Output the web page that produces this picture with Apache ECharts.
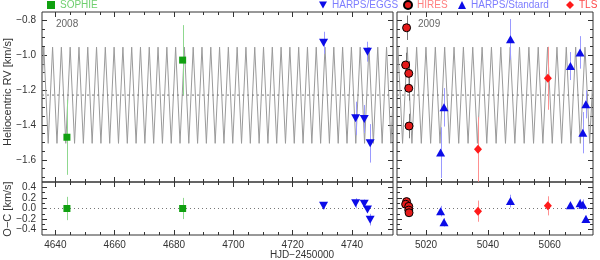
<!DOCTYPE html>
<html><head><meta charset="utf-8">
<script src="https://cdn.jsdelivr.net/npm/echarts@6/dist/echarts.min.js"></script>
<style>html,body{margin:0;padding:0;background:#fff}#c{width:600px;height:260px}</style>
</head><body><div id="c"></div>
<script>
// ---------------- data ----------------
const leftRange = [4635.5, 4753.8];
const rightRange = [5010.6, 5074.0];
const rvRange = [-1.726, -0.754];
const ocRange = [-0.5, 0.5];
const rvTicks = [-1.6, -1.4, -1.2, -1.0, -0.8];
const rvMinor = [-1.70,-1.65,-1.60,-1.55,-1.50,-1.45,-1.40,-1.35,-1.30,-1.25,-1.20,-1.15,-1.10,-1.05,-1.00,-0.95,-0.90,-0.85,-0.80];
const ocTicks = [-0.4, -0.2, 0.0, 0.2, 0.4];
const ocMinor = [-0.4,-0.3,-0.2,-0.1,0,0.1,0.2,0.3,0.4];
const xTicksLeft = [4640, 4660, 4680, 4700, 4720, 4740];
const xMinorLeft = [4640,4645,4650,4655,4660,4665,4670,4675,4680,4685,4690,4695,4700,4705,4710,4715,4720,4725,4730,4735,4740,4745,4750];
const xTicksRight = [5020, 5040, 5060];
const xMinorRight = [5015,5020,5025,5030,5035,5040,5045,5050,5055,5060,5065,5070];
const systemicRV = -1.229;
const curvePeakRV = -0.955;
const curveTroughRV = -1.505;
// model curve extrema
const curvePeaksLeft = [4636.11,4639.07,4642.03,4644.99,4647.96,4650.92,4653.88,4656.84,4659.80,4662.77,4665.73,4668.69,4671.65,4674.61,4677.58,4680.54,4683.50,4686.46,4689.42,4692.39,4695.35,4698.31,4701.27,4704.23,4707.20,4710.16,4713.12,4716.08,4719.04,4722.01,4724.97,4727.93,4730.89,4733.85,4736.82,4739.78,4742.74,4745.70,4748.66,4751.63,4754.59];
const curveTroughsLeft = [4634.63,4637.59,4640.55,4643.51,4646.47,4649.44,4652.40,4655.36,4658.32,4661.28,4664.25,4667.21,4670.17,4673.13,4676.09,4679.06,4682.02,4684.98,4687.94,4690.90,4693.87,4696.83,4699.79,4702.75,4705.71,4708.68,4711.64,4714.60,4717.56,4720.52,4723.49,4726.45,4729.41,4732.37,4735.33,4738.30,4741.26,4744.22,4747.18,4750.14,4753.11];
const curvePeaksRight = [5010.89,5013.92,5016.95,5019.97,5023.00,5026.02,5029.05,5032.08,5035.10,5038.13,5041.15,5044.18,5047.21,5050.23,5053.26,5056.28,5059.31,5062.34,5065.36,5068.39,5071.41,5074.44];
const curveTroughsRight = [5009.38,5012.40,5015.43,5018.46,5021.48,5024.51,5027.54,5030.56,5033.59,5036.61,5039.64,5042.66,5045.69,5048.72,5051.74,5054.77,5057.79,5060.82,5063.85,5066.87,5069.90,5072.92];

// SOPHIE
const sophieT = [4643.9, 4682.9];
const sophieRV = [-1.47, -1.029];
const sophieErr = [0.215, 0.20];
const sophieOC = [0.0, 0.0];
const sophieOCErr = [0.22, 0.20];
// HARPS/EGGS
const eggsT = [4730.4, 4741.2, 4744.1, 4745.2, 4746.1];
const eggsRV = [-0.93, -1.362, -1.366, -0.981, -1.505];
const eggsErr = [0.063, 0.095, 0.08, 0.057, 0.11];
const eggsOC = [0.05, 0.10, 0.09, -0.02, -0.21];
const eggsOCErr = [0.063, 0.095, 0.08, 0.057, 0.11];
// HIRES
const hiresT = [5013.7, 5013.4, 5014.4, 5014.4, 5014.5];
const hiresRV = [-0.844, -1.057, -1.105, -1.19, -1.406];
const hiresErr = [0.07, 0.07, 0.07, 0.07, 0.07];
const hiresOC = [0.13, 0.08, 0.04, -0.03, -0.08];
const hiresOCErr = [0.07, 0.07, 0.07, 0.07, 0.07];
// HARPS/Standard
const stdT = [5024.7, 5025.8, 5047.3, 5066.7, 5069.8, 5070.7, 5071.7];
const stdRV = [-1.558, -1.299, -0.91, -1.063, -0.985, -1.444, -1.282];
const stdErr = [0.145, 0.11, 0.116, 0.08, 0.093, 0.118, 0.08];
const stdOC = [-0.05, -0.26, 0.14, 0.06, 0.10, 0.07, -0.20];
const stdOCErr = [0.1, 0.08, 0.12, 0.07, 0.08, 0.1, 0.07];
// TLS
const tlsT = [5036.8, 5059.4];
const tlsRV = [-1.539, -1.133];
const tlsErr = [0.185, 0.18];
const tlsOC = [-0.05, 0.05];
const tlsOCErr = [0.2, 0.18];

// ---------------- chart ----------------
const FONT = 'Liberation Sans';
const AX = '#333';
const TRI_DOWN = 'path://M0,0L10,0L5,9Z';
const fmtY = v => (Math.abs(v) < 1e-9 ? '0.0' : v.toFixed(1)).replace('-', '\u2212');
const fmtX = v => String(Math.round(v));

const grids = [
  {left:42, top:12, width:351, height:170},
  {left:42, top:182, width:351, height:53},
  {left:397, top:12, width:196, height:170},
  {left:397, top:182, width:196, height:53}
].map(g => Object.assign(g, {show:true, borderColor:AX, borderWidth:1, backgroundColor:'transparent'}));

function mkAxes(dim, g, range, majors, minors, labels, fmt) {
  const base = {type:'value', gridIndex:g, min:range[0], max:range[1],
    splitLine:{show:false}, axisLine:{show:false, onZero:false}};
  const sides = dim === 'x' ? [['bottom', labels], ['top', false]] : [['left', labels], ['right', false]];
  const out = [];
  sides.forEach(([pos, lab]) => {
    out.push(Object.assign({}, base, {position:pos,
      axisTick:{show:true, inside:true, length:5, customValues:majors, lineStyle:{color:AX}},
      axisLabel:{show:lab, customValues:majors, margin:dim==='x'?5:6, color:AX,
        fontFamily:FONT, fontSize:10, formatter:fmt}}));
    out.push(Object.assign({}, base, {position:pos,
      axisTick:{show:true, inside:true, length:3, customValues:minors, lineStyle:{color:AX}},
      axisLabel:{show:false}}));
  });
  return out;
}

const xAxes = [].concat(
  mkAxes('x', 0, leftRange, xTicksLeft, xMinorLeft, false, fmtX),
  mkAxes('x', 1, leftRange, xTicksLeft, xMinorLeft, true, fmtX),
  mkAxes('x', 2, rightRange, xTicksRight, xMinorRight, false, fmtX),
  mkAxes('x', 3, rightRange, xTicksRight, xMinorRight, true, fmtX)
);
const yAxes = [].concat(
  mkAxes('y', 0, rvRange, rvTicks, rvMinor, true, fmtY),
  mkAxes('y', 1, ocRange, ocTicks, ocMinor, true, fmtY),
  mkAxes('y', 2, rvRange, rvTicks, rvMinor, false, fmtY),
  mkAxes('y', 3, ocRange, ocTicks, ocMinor, false, fmtY)
);

function merge(peaks, troughs) {
  const pts = peaks.map(t => [t, curvePeakRV]).concat(troughs.map(t => [t, curveTroughRV]));
  pts.sort((a, b) => a[0] - b[0]);
  return pts;
}
function curve(g, peaks, troughs) {
  return {type:'line', xAxisIndex:g*4, yAxisIndex:g*4, data:merge(peaks, troughs),
    showSymbol:false, symbol:'none', silent:true, clip:true, z:1,
    lineStyle:{color:'#9a9a9a', width:1}};
}
function hline(g, range, y, dash) {
  return {type:'line', xAxisIndex:g*4, yAxisIndex:g*4, data:[[range[0], y], [range[1], y]],
    symbol:'none', silent:true, z:1, lineStyle:{color:'#777', width:1, type:dash}};
}
function errBars(name, g, T, V, E, color) {
  return {type:'custom', name:name, xAxisIndex:g*4, yAxisIndex:g*4, silent:true, z:2, clip:true,
    data:T.map((t, i) => [t, V[i] - E[i], V[i] + E[i]]),
    encode:{x:0, y:[1, 2]},
    renderItem:(params, api) => {
      const a = api.coord([api.value(0), api.value(1)]);
      const b = api.coord([api.value(0), api.value(2)]);
      const x = Math.round(a[0]) + 0.5;
      return {type:'line', shape:{x1:x, y1:a[1], x2:x, y2:b[1]},
        style:{stroke:color, lineWidth:1}};
    }};
}
function pts(name, g, T, V, symbol, size, color, border) {
  return {type:'scatter', name:name, xAxisIndex:g*4, yAxisIndex:g*4,
    data:T.map((t, i) => [t, V[i]]), symbol:symbol, symbolSize:size, z:3, clip:true,
    itemStyle:{color:color, borderColor:border || color, borderWidth:border ? 1 : 0, opacity:1}};
}

const C = {
  sophie:'#10a010', sophieE:'#8fd88f', sophieT:'#6fcf6f',
  blue:'#0c0ce8', blueE:'#9a9aff', blueT:'#7d7dff',
  hires:'#e41a1a', hiresE:'#777777', hiresT:'#ff8080',
  tls:'#ff1a1a', tlsE:'#ff9090', tlsT:'#ff4a4a'
};

const series = [
  curve(0, curvePeaksLeft, curveTroughsLeft),
  curve(2, curvePeaksRight, curveTroughsRight),
  hline(0, leftRange, systemicRV, [2, 3]),
  hline(2, rightRange, systemicRV, [2, 3]),
  hline(1, leftRange, 0, [1, 3]),
  hline(3, rightRange, 0, [1, 3]),

  errBars('e1', 0, sophieT, sophieRV, sophieErr, C.sophieE),
  errBars('e2', 1, sophieT, sophieOC, sophieOCErr, C.sophieE),
  errBars('e3', 0, eggsT, eggsRV, eggsErr, C.blueE),
  errBars('e4', 1, eggsT, eggsOC, eggsOCErr, C.blueE),
  errBars('e5', 2, hiresT, hiresRV, hiresErr, C.hiresE),
  errBars('e6', 3, hiresT, hiresOC, hiresOCErr, C.hiresE),
  errBars('e7', 2, stdT, stdRV, stdErr, C.blueE),
  errBars('e8', 3, stdT, stdOC, stdOCErr, C.blueE),
  errBars('e9', 2, tlsT, tlsRV, tlsErr, C.tlsE),
  errBars('e10', 3, tlsT, tlsOC, tlsOCErr, C.tlsE),

  pts('SOPHIE', 0, sophieT, sophieRV, 'rect', 7, C.sophie),
  pts('SOPHIE', 1, sophieT, sophieOC, 'rect', 7, C.sophie),
  pts('HARPS/EGGS', 0, eggsT, eggsRV, TRI_DOWN, [9, 8], C.blue),
  pts('HARPS/EGGS', 1, eggsT, eggsOC, TRI_DOWN, [9, 8], C.blue),
  pts('HIRES', 2, hiresT, hiresRV, 'circle', 8, C.hires, '#000'),
  pts('HIRES', 3, hiresT, hiresOC, 'circle', 8, C.hires, '#000'),
  pts('HARPS/Standard', 2, stdT, stdRV, 'triangle', [9, 8], C.blue),
  pts('HARPS/Standard', 3, stdT, stdOC, 'triangle', [9, 8], C.blue),
  pts('TLS', 2, tlsT, tlsRV, 'diamond', [8, 9], C.tls),
  pts('TLS', 3, tlsT, tlsOC, 'diamond', [8, 9], C.tls)
];

function leg(name, left, color) {
  return {data:[name], left:left, top:0, padding:0, itemWidth:8, itemHeight:8, itemGap:0,
    selectedMode:false, textStyle:{color:color, fontFamily:FONT, fontSize:10}};
}

const option = {
  animation:false,
  backgroundColor:'#fff',
  grid:grids,
  xAxis:xAxes,
  yAxis:yAxes,
  legend:[
    leg('SOPHIE', 47, C.sophieT),
    leg('HARPS/EGGS', 319, C.blueT),
    leg('HIRES', 403, C.hiresT),
    leg('HARPS/Standard', 458, C.blueT),
    leg('TLS', 566, C.tlsT)
  ],
  graphic:[
    {type:'text', x:56, y:24, style:{text:'2008', fill:'#666', font:'10px "Liberation Sans"', textVerticalAlign:'middle'}},
    {type:'text', x:418, y:24, style:{text:'2009', fill:'#666', font:'10px "Liberation Sans"', textVerticalAlign:'middle'}},
    {type:'text', x:8, y:92, rotation:Math.PI/2, style:{text:'Heliocentric RV [km/s]', fill:AX, font:'11px "Liberation Sans"', textAlign:'center', textVerticalAlign:'middle'}},
    {type:'text', x:8, y:209, rotation:Math.PI/2, style:{text:'O\u2212C [km/s]', fill:AX, font:'11px "Liberation Sans"', textAlign:'center', textVerticalAlign:'middle'}},
    {type:'text', x:302, y:255, style:{text:'HJD\u22122450000', fill:AX, font:'10px "Liberation Sans"', textAlign:'center', textVerticalAlign:'middle'}}
  ],
  series:series
};
const chart = echarts.init(document.getElementById('c'), null, {renderer:'canvas'});
chart.setOption(option);
</script>
</body></html>
